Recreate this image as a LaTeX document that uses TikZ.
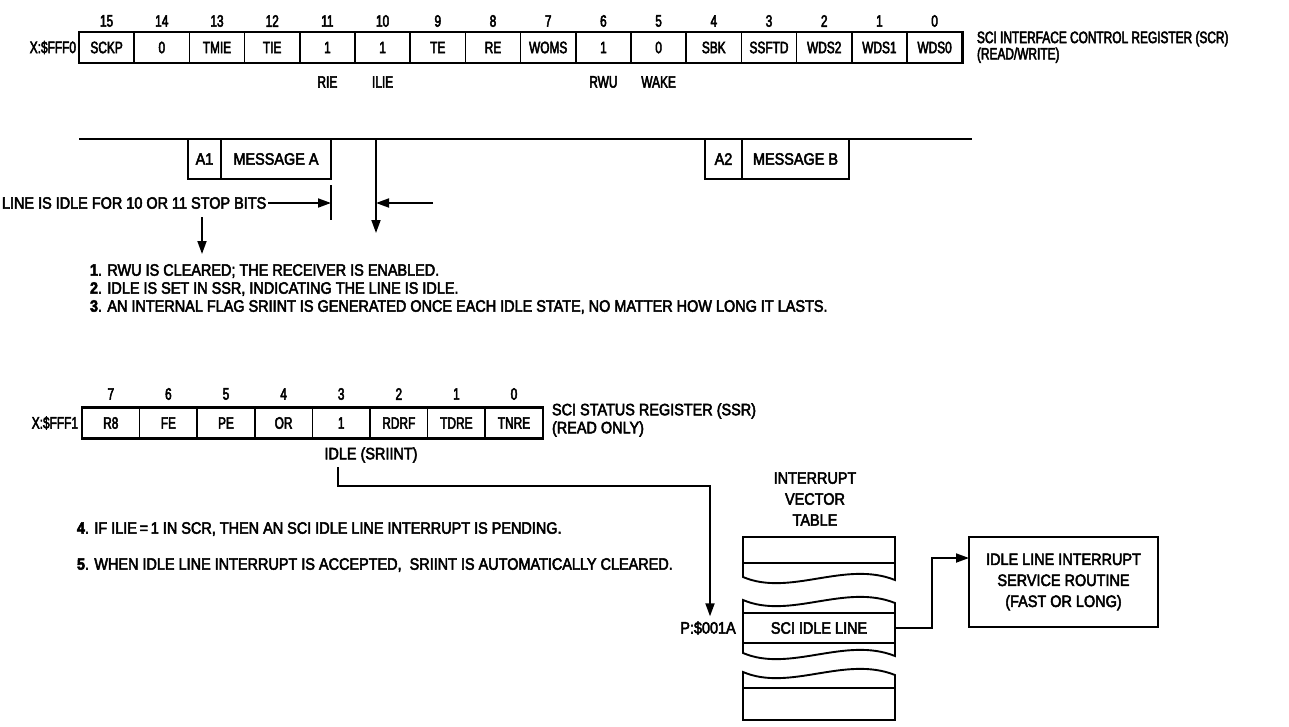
\documentclass[tikz,border=0pt]{standalone}
\usepackage{fontspec}
\setmainfont{Liberation Sans}[FakeStretch=0.875, UprightFeatures={FakeBold=3}, BoldFeatures={FakeBold=3}]
\newfontfamily\condfont{Liberation Sans}[FakeStretch=0.72, UprightFeatures={FakeBold=3}]
\usetikzlibrary{arrows.meta,calc}
\begin{document}
\begin{tikzpicture}[x=1pt,y=-1pt,
  every node/.style={inner sep=0pt, outer sep=0pt},
  txt/.style={font=\fontsize{16.5}{18}\selectfont},
  ctxt/.style={font=\condfont\fontsize{16.5}{18}\selectfont},
  cell/.style={ctxt, draw, line width=1.6pt, minimum height=31pt, anchor=center},
  frame/.style={line width=2.6pt},
  ln/.style={line width=1.9pt},
  boxn/.style={draw, line width=1.9pt, txt, minimum height=40pt},
  arr/.style={line width=1.8pt, -{Triangle[length=13pt,width=9pt]}},
]
\useasboundingbox (0,0) rectangle (1289,726);

% ---------- SCR register ----------
\foreach \lab [count=\i from 0] in {SCKP,0,TMIE,TIE,1,1,TE,RE,WOMS,1,0,SBK,SSFTD,WDS2,WDS1,WDS0}{
  \pgfmathtruncatemacro\bn{15-\i}
  \node[cell, minimum width=55.2pt] (scr\bn) at ({79+(\i+0.5)*55.2},47.5) {\lab};
  \node[ctxt] (scrn\bn) at ({79+(\i+0.5)*55.2},21) {\bn};
}
\draw[frame] (scr15.north west) rectangle (scr0.south east);
\node[ctxt, anchor=east] (scraddr) at (76,47.5) {X:\$FFF0};
\node[ctxt, anchor=west, align=left, font=\condfont\fontsize{16.5}{14}\selectfont] (scrtitle) at (977,47) {SCI INTERFACE CONTROL REGISTER (SCR)\\(READ/WRITE)};
\node[ctxt] (rie)  at ($(scr11.center)+(0,34.5)$) {RIE};
\node[ctxt] (ilie) at ($(scr10.center)+(0,34.5)$) {ILIE};
\node[ctxt] (rwu)  at ($(scr6.center)+(0,34.5)$) {RWU};
\node[ctxt] (wake) at ($(scr5.center)+(0,34.5)$) {WAKE};

% ---------- serial line ----------
\draw[ln] (79,139) -- (972,139);
\node[boxn, minimum width=33pt]  (a1)   at (204.5,159) {A1};
\node[boxn, minimum width=110pt] (msga) at (276,159)   {MESSAGE A};
\node[boxn, minimum width=37pt]  (a2)   at (723.5,159) {A2};
\node[boxn, minimum width=107pt] (msgb) at (795.5,159) {MESSAGE B};

\draw[ln] (331,185) -- (331,220);
\node[txt, anchor=west] (idletxt) at (2,203) {LINE IS IDLE FOR 10 OR 11 STOP BITS};
\coordinate (tickmid) at (331,203);
\draw[arr] ($(idletxt.east)+(2,0)$) -- (tickmid);
\coordinate (rarrs) at (433,203);
\coordinate (rarre) at (376,203);
\draw[arr] (rarrs) -- (rarre);
\coordinate (vtop) at (376,139);
\coordinate (vbot) at (376,233);
\draw[arr] (vtop) -- (vbot);
\coordinate (dtop) at (202,217);
\coordinate (dbot) at (202,254);
\draw[arr] (dtop) -- (dbot);

% ---------- notes 1-3 ----------
\node[txt, anchor=west] (it1) at (90,271) {\textbf{1}. RWU IS CLEARED; THE RECEIVER IS ENABLED.};
\node[txt, anchor=west] (it2) at (90,289) {\textbf{2}. IDLE IS SET IN SSR, INDICATING THE LINE IS IDLE.};
\node[txt, anchor=west] (it3) at (90,307) {\textbf{3}. AN INTERNAL FLAG SRIINT IS GENERATED ONCE EACH IDLE STATE, NO MATTER HOW LONG IT LASTS.};

% ---------- SSR register ----------
\foreach \lab [count=\i from 0] in {R8,FE,PE,OR,1,RDRF,TDRE,TNRE}{
  \pgfmathtruncatemacro\bn{7-\i}
  \node[cell, minimum width=57.6pt] (ssr\bn) at ({82+(\i+0.5)*57.6},423) {\lab};
  \node[ctxt] (ssrn\bn) at ({82+(\i+0.5)*57.6},394) {\bn};
}
\draw[frame] (ssr7.north west) rectangle (ssr0.south east);
\node[ctxt, anchor=east] (ssraddr) at (78,423) {X:\$FFF1};
\node[txt, anchor=west, align=left, font=\fontsize{16.5}{18}\selectfont] (ssrtitle) at (552,420) {SCI STATUS REGISTER (SSR)\\(READ ONLY)};
\node[txt] (idlelbl) at (371,455) {IDLE (SRIINT)};

% ---------- notes 4-5 ----------
\node[txt, anchor=west] (it4) at (77,529) {\textbf{4}. IF ILIE\,=\,1 IN SCR, THEN AN SCI IDLE LINE INTERRUPT IS PENDING.};
\node[txt, anchor=west] (it5) at (77,565) {\textbf{5}. WHEN IDLE LINE INTERRUPT IS ACCEPTED,\ \ SRIINT IS AUTOMATICALLY CLEARED.};

% ---------- interrupt vector table ----------
\node[txt, align=center, font=\fontsize{16.5}{21}\selectfont] (ivt) at (815,499) {INTERRUPT\\VECTOR\\TABLE};
\draw[ln] (743,537) -- (895,537) -- (895,580) .. controls (845,560) and (790,597) .. (743,577) -- cycle;
\draw[ln] (743,563) -- (895,563);
\draw[ln] (743,600) .. controls (790,620) and (845,583) .. (895,603) -- (895,656) .. controls (845,636) and (790,673) .. (743,653) -- cycle;
\node[draw, ln, txt, minimum width=152pt, minimum height=30pt] (sci) at (819,628) {SCI IDLE LINE};
\draw[ln] (743,672) .. controls (790,692) and (845,655) .. (895,675) -- (895,720) -- (743,720) -- cycle;
\draw[ln] (743,688) -- (895,688);
\node[txt] (pnode) at (708,628) {P:\$001A};

% ---------- service routine ----------
\node[draw, frame, txt, align=center, minimum width=189pt, minimum height=90pt, font=\fontsize{16.5}{21}\selectfont] (isr) at (1063.5,582) {IDLE LINE INTERRUPT\\SERVICE ROUTINE\\(FAST OR LONG)};

% ---------- connectors ----------
\coordinate (c1) at (338,467);
\draw[arr] (c1) -- ++(0,19) -| ($(pnode.north)+(2,-5)$);
\draw[arr] (sci.east) -- ++(37,0) |- ($(isr.north west)+(0,21)$);
\end{tikzpicture}
\end{document}
